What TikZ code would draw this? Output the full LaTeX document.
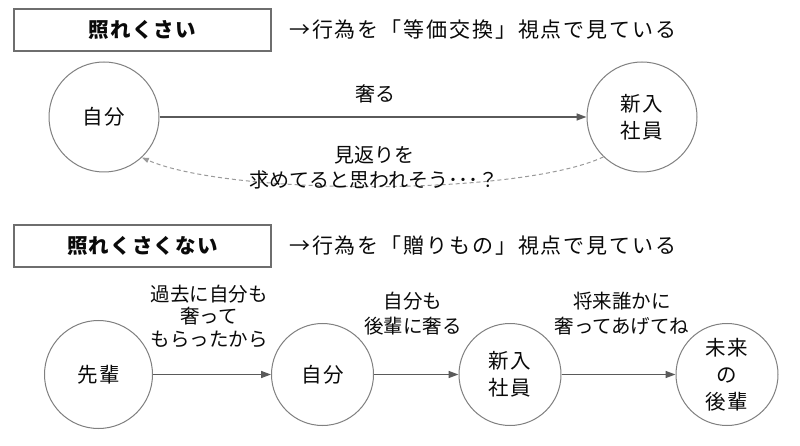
\documentclass[tikz,border=0pt]{standalone}
\usepackage{fontspec}
\newfontfamily\jp[LetterSpace=6]{Noto Sans CJK JP}
\newfontfamily\jpn[LetterSpace=9]{Noto Sans CJK JP}
\newfontfamily\jpl{Noto Sans CJK JP}
\usetikzlibrary{arrows.meta}
\definecolor{circgray}{HTML}{808080}
\definecolor{arrgray}{HTML}{5A5A5A}
\definecolor{dashgray}{HTML}{9A9A9A}
\definecolor{boxgray}{HTML}{6E6E6E}
\definecolor{txt}{HTML}{0A0A0A}
\begin{document}
\begin{tikzpicture}[x=1pt,y=-1pt,
  circ/.style={circle,draw=circgray,line width=1pt,inner sep=0pt,align=center,text=txt,
    font=\jp\fontsize{20.5}{27}\selectfont},
  titlebox/.style={draw=boxgray,line width=1.2pt,minimum width=257pt,minimum height=42pt,
    inner sep=0pt,text=txt,font=\jp\bfseries\fontsize{20.5}{24}\selectfont},
  note/.style={anchor=west,inner sep=0pt,text=txt,font=\jpn\fontsize{21}{24}\selectfont},
  lbl/.style={align=center,inner sep=0pt,text=txt,font=\jpl\fontsize{19.5}{24}\selectfont},
  flow/.style={draw=arrgray,line width=1.5pt,-{Triangle[length=10pt,width=7pt]}},
  back/.style={draw=dashgray,line width=1pt,dash pattern=on 4pt off 3pt,
    -{Triangle[length=7pt,width=5pt]}}
]
\useasboundingbox (0,0) rectangle (800,446);
\fill[white] (0,0) rectangle (800,446);

% section 1
\node[titlebox] (t1) at (142.5,30) {照れくさい};
\node[note] (n1) at (289,30) {→行為を「等価交換」視点で見ている};

\node[circ,minimum size=110pt] (a) at (104,117) {自分};
\node[circ,minimum size=110pt] (b) at (642,117) {新入\\社員};
\draw[flow] (a) -- (b);
\node[lbl,font=\jpl\fontsize{20}{25}\selectfont] (l1) at (375,94) {奢る};
\draw[back] (b.-134) .. controls (520,196) and (230,196) .. (a.-47);
\node[lbl,font=\jpl\fontsize{20}{25}\selectfont] (l2) at (374,167.5) {見返りを\\求めてると思われそう･･･？};

% section 2
\node[titlebox] (t2) at (142.5,246) {照れくさくない};
\node[note] (n2) at (289,246) {→行為を「贈りもの」視点で見ている};

\node[circ,minimum size=108pt] (c1) at (98.5,374.5) {先輩};
\node[circ,minimum size=102pt] (c2) at (322.5,374.5) {自分};
\node[circ,minimum size=102pt] (c3) at (510,374.5) {新入\\社員};
\node[circ,minimum size=102pt] (c4) at (727,374.5) {未来\\の\\後輩};
\draw[flow] (c1) -- (c2);
\draw[flow] (c2) -- (c3);
\draw[flow] (c3) -- (c4);

\node[lbl,font=\jpl\fontsize{19.5}{22.5}\selectfont] (m1) at (209,316) {過去に自分も\\奢って\\もらったから};
\node[lbl,font=\jpl\fontsize{19.5}{25}\selectfont] (m2) at (413,314) {自分も\\後輩に奢る};
\node[lbl,font=\jpl\fontsize{19.5}{25}\selectfont] (m3) at (622,314) {将来誰かに\\奢ってあげてね};
\end{tikzpicture}
\end{document}
